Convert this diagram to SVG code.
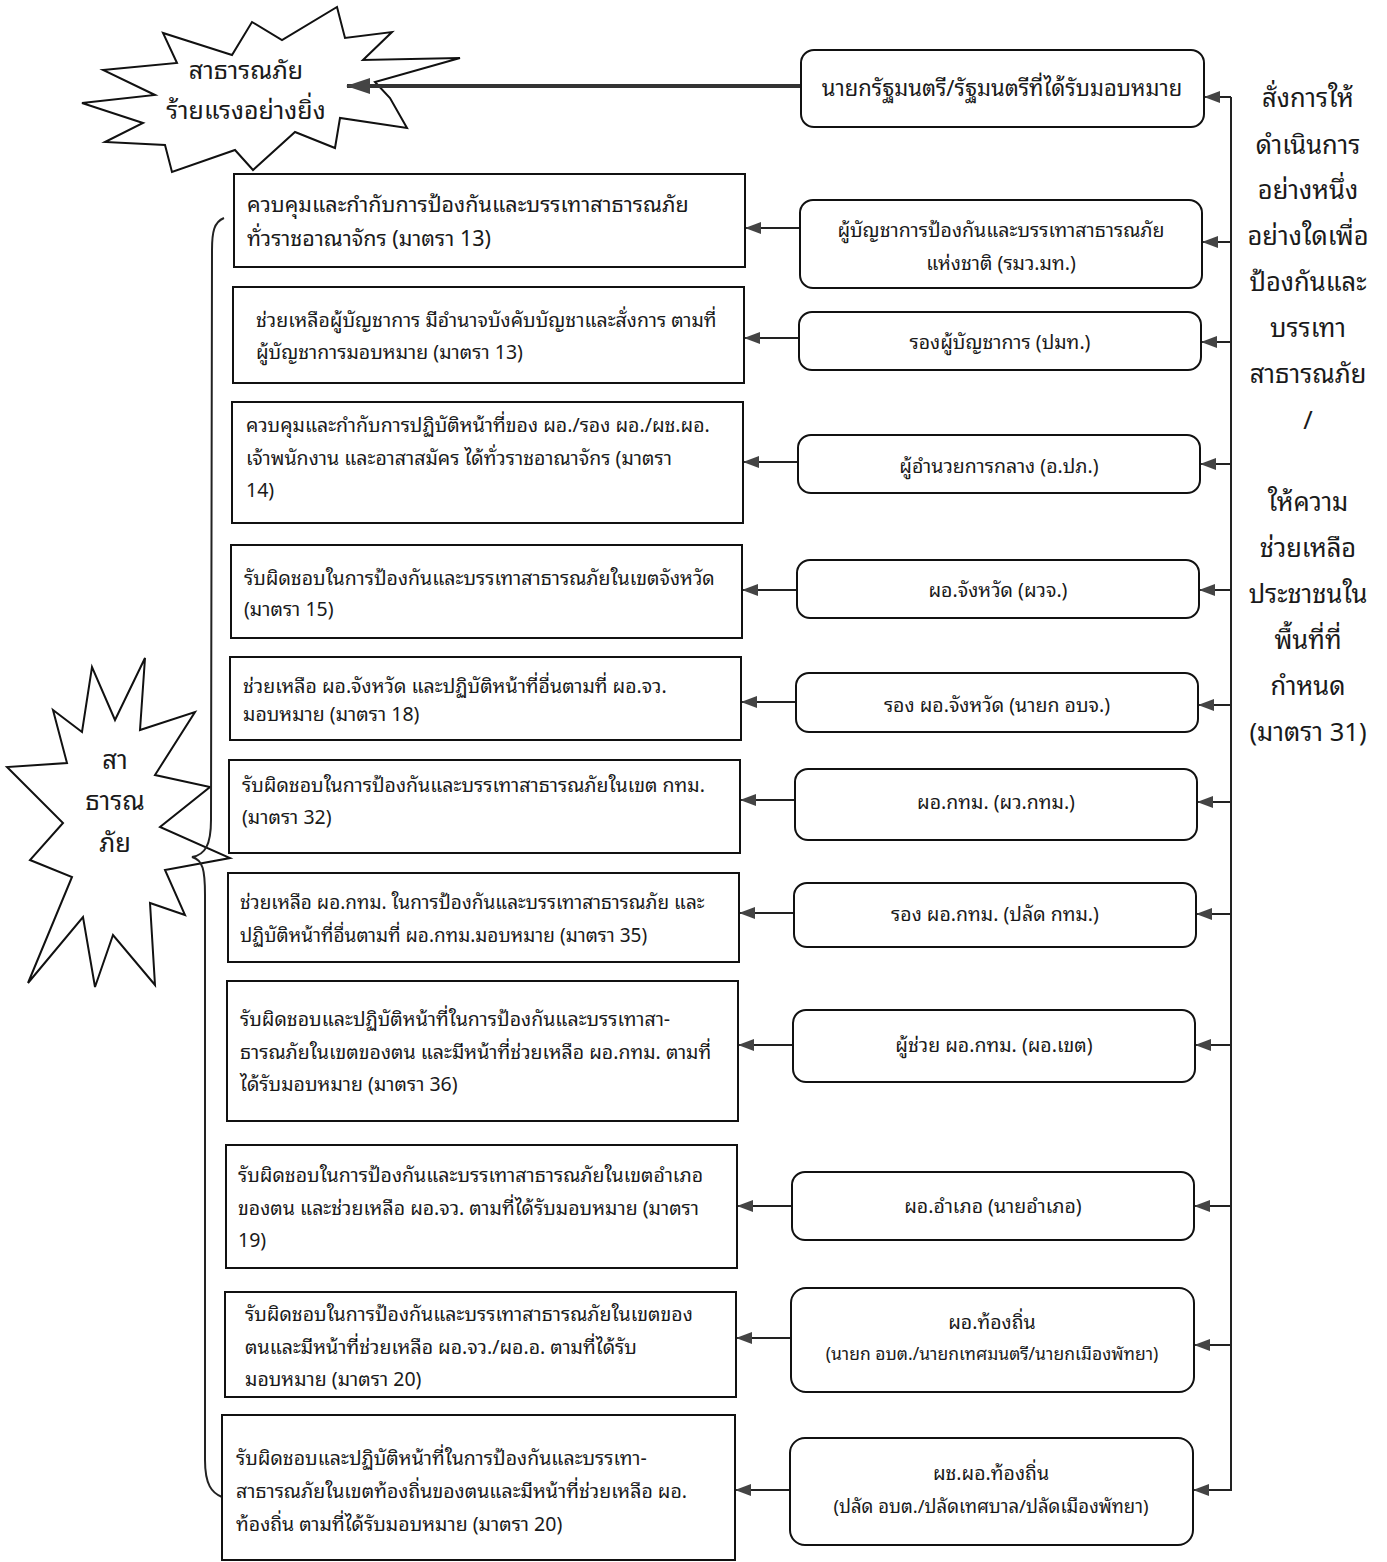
<svg xmlns="http://www.w3.org/2000/svg" width="1387" height="1562" viewBox="0 0 1387 1562">
<defs>
<style>
text{font-family:"Noto Sans Thai Looped","Noto Serif Thai","Noto Sans Thai","Noto Sans","Liberation Sans",sans-serif;fill:#1a1a1a;}
.l{font-size:19.5px;}
.l1{font-size:21.5px;}
.r{font-size:19.5px;text-anchor:middle;}
.c{font-size:25.5px;text-anchor:middle;}
.s{font-size:25.5px;text-anchor:middle;}
.rect{fill:#fff;stroke:#111;stroke-width:2;}
.rr{fill:#fff;stroke:#111;stroke-width:2;}
.star{fill:#fff;stroke:#111;stroke-width:2;stroke-linejoin:miter;}
.ln{stroke:#222;stroke-width:2;fill:none;}
</style>
<marker id="ah" markerWidth="16" markerHeight="12" refX="15" refY="6" orient="auto" markerUnits="userSpaceOnUse">
<path d="M0,0 L16,6 L0,12 Z" fill="#444"/>
</marker>
<marker id="ahb" markerWidth="24" markerHeight="16" refX="23" refY="8" orient="auto" markerUnits="userSpaceOnUse">
<path d="M0,0 L24,8 L0,16 Z" fill="#444"/>
</marker>
</defs>
<rect width="1387" height="1562" fill="#fff"/>

<g id="star-top">
<polygon class="star" points="103,70 177,63 163,33 232,55 252,22 282,40 337,7 345,38 392,32 363,60 460,58 375,82 390,98 407,128 340,118 335,148 295,132 253,170 235,150 172,172 165,145 105,142 143,123 82,103 155,95"/>
<text class="c" x="246" y="79" style="font-size:25px">สาธารณภัย</text>
<text class="c" x="246" y="119" style="font-size:25px">ร้ายแรงอย่างยิ่ง</text>
</g>

<g id="star-left">
<polygon class="star" points="7,767 63,823 30,860 72,877 28,983 83,917 95,987 113,935 155,985 150,903 185,915 165,870 230,858 160,827 210,787 155,775 195,712 140,730 145,658 115,720 92,667 82,732 53,710 67,763"/>
<text class="c" x="115" y="769">สา</text>
<text class="c" x="115" y="810">ธารณ</text>
<text class="c" x="115" y="852">ภัย</text>
</g>

<g id="connectors">
<path class="ln" d="M224,218 C214,222 212,232 212,250 L211,820 C211,845 205,855 192,857 C203,860 205,870 205,895 L205,1460 C205,1485 212,1493 222,1497"/>
<line x1="801" y1="86" x2="347" y2="86" stroke="#333" stroke-width="4" marker-end="url(#ahb)"/>
<line class="ln" x1="1231" y1="97" x2="1231" y2="1491"/>
<line class="ln" x1="1231" y1="97" x2="1205" y2="97" marker-end="url(#ah)"/>
<line class="ln" x1="1231" y1="242" x2="1203" y2="242" marker-end="url(#ah)"/>
<line class="ln" x1="1231" y1="342" x2="1202" y2="342" marker-end="url(#ah)"/>
<line class="ln" x1="1231" y1="464" x2="1201" y2="464" marker-end="url(#ah)"/>
<line class="ln" x1="1231" y1="590" x2="1200" y2="590" marker-end="url(#ah)"/>
<line class="ln" x1="1231" y1="705" x2="1199" y2="705" marker-end="url(#ah)"/>
<line class="ln" x1="1231" y1="802" x2="1198" y2="802" marker-end="url(#ah)"/>
<line class="ln" x1="1231" y1="914" x2="1197" y2="914" marker-end="url(#ah)"/>
<line class="ln" x1="1231" y1="1045" x2="1196" y2="1045" marker-end="url(#ah)"/>
<line class="ln" x1="1231" y1="1206" x2="1195" y2="1206" marker-end="url(#ah)"/>
<line class="ln" x1="1231" y1="1345" x2="1195" y2="1345" marker-end="url(#ah)"/>
<line class="ln" x1="1231" y1="1490" x2="1194" y2="1490" marker-end="url(#ah)"/>
<line class="ln" x1="800" y1="228" x2="746" y2="228" marker-end="url(#ah)"/>
<line class="ln" x1="799" y1="338" x2="745" y2="338" marker-end="url(#ah)"/>
<line class="ln" x1="798" y1="462" x2="744" y2="462" marker-end="url(#ah)"/>
<line class="ln" x1="797" y1="590" x2="743" y2="590" marker-end="url(#ah)"/>
<line class="ln" x1="796" y1="702" x2="742" y2="702" marker-end="url(#ah)"/>
<line class="ln" x1="795" y1="800" x2="741" y2="800" marker-end="url(#ah)"/>
<line class="ln" x1="794" y1="913" x2="740" y2="913" marker-end="url(#ah)"/>
<line class="ln" x1="793" y1="1045" x2="739" y2="1045" marker-end="url(#ah)"/>
<line class="ln" x1="792" y1="1206" x2="738" y2="1206" marker-end="url(#ah)"/>
<line class="ln" x1="791" y1="1338" x2="737" y2="1338" marker-end="url(#ah)"/>
<line class="ln" x1="790" y1="1490" x2="736" y2="1490" marker-end="url(#ah)"/>
</g>

<g id="r0"><rect class="rr" x="801" y="50" width="403" height="77" rx="13"/><text class="r" x="1002" y="96" style="font-size:22px">นายกรัฐมนตรี/รัฐมนตรีที่ได้รับมอบหมาย</text></g>
<g id="r1"><rect class="rr" x="800" y="200" width="402" height="88" rx="13"/><text class="r" x="1001" y="237">ผู้บัญชาการป้องกันและบรรเทาสาธารณภัย</text><text class="r" x="1001" y="270">แห่งชาติ (รมว.มท.)</text></g>
<g id="r2"><rect class="rr" x="799" y="312" width="402" height="58" rx="13"/><text class="r" x="1000" y="349">รองผู้บัญชาการ (ปมท.)</text></g>
<g id="r3"><rect class="rr" x="798" y="435" width="402" height="58" rx="13"/><text class="r" x="999" y="473">ผู้อำนวยการกลาง (อ.ปภ.)</text></g>
<g id="r4"><rect class="rr" x="797" y="560" width="402" height="58" rx="13"/><text class="r" x="998" y="597">ผอ.จังหวัด (ผวจ.)</text></g>
<g id="r5"><rect class="rr" x="796" y="673" width="402" height="59" rx="13"/><text class="r" x="997" y="712">รอง ผอ.จังหวัด (นายก อบจ.)</text></g>
<g id="r6"><rect class="rr" x="795" y="769" width="402" height="71" rx="13"/><text class="r" x="996" y="809">ผอ.กทม. (ผว.กทม.)</text></g>
<g id="r7"><rect class="rr" x="794" y="883" width="402" height="64" rx="13"/><text class="r" x="995" y="921">รอง ผอ.กทม. (ปลัด กทม.)</text></g>
<g id="r8"><rect class="rr" x="793" y="1010" width="402" height="72" rx="13"/><text class="r" x="994" y="1052">ผู้ช่วย ผอ.กทม. (ผอ.เขต)</text></g>
<g id="r9"><rect class="rr" x="792" y="1172" width="402" height="68" rx="13"/><text class="r" x="993" y="1213">ผอ.อำเภอ (นายอำเภอ)</text></g>
<g id="r10"><rect class="rr" x="791" y="1288" width="403" height="104" rx="15"/><text class="r" x="992" y="1329">ผอ.ท้องถิ่น</text><text class="r" x="992" y="1360" style="font-size:17.5px">(นายก อบต./นายกเทศมนตรี/นายกเมืองพัทยา)</text></g>
<g id="r11"><rect class="rr" x="790" y="1438" width="403" height="107" rx="15"/><text class="r" x="991" y="1480">ผช.ผอ.ท้องถิ่น</text><text class="r" x="991" y="1513" style="font-size:18.5px">(ปลัด อบต./ปลัดเทศบาล/ปลัดเมืองพัทยา)</text></g>

<g id="l1"><rect class="rect" x="234" y="174" width="511" height="93"/><text class="l1" x="247" y="212">ควบคุมและกำกับการป้องกันและบรรเทาสาธารณภัย</text><text class="l1" x="247" y="246">ทั่วราชอาณาจักร (มาตรา 13)</text></g>
<g id="l2"><rect class="rect" x="233" y="287" width="511" height="96"/><text class="l" x="256" y="327">ช่วยเหลือผู้บัญชาการ มีอำนาจบังคับบัญชาและสั่งการ ตามที่</text><text class="l" x="256" y="359">ผู้บัญชาการมอบหมาย (มาตรา 13)</text></g>
<g id="l3"><rect class="rect" x="232" y="402" width="511" height="121"/><text class="l" x="246" y="432">ควบคุมและกำกับการปฏิบัติหน้าที่ของ ผอ./รอง ผอ./ผช.ผอ.</text><text class="l" x="246" y="465">เจ้าพนักงาน และอาสาสมัคร ได้ทั่วราชอาณาจักร (มาตรา</text><text class="l" x="246" y="497">14)</text></g>
<g id="l4"><rect class="rect" x="231" y="545" width="511" height="93"/><text class="l" x="244" y="585">รับผิดชอบในการป้องกันและบรรเทาสาธารณภัยในเขตจังหวัด</text><text class="l" x="244" y="616">(มาตรา 15)</text></g>
<g id="l5"><rect class="rect" x="230" y="657" width="511" height="83"/><text class="l" x="243" y="693">ช่วยเหลือ ผอ.จังหวัด และปฏิบัติหน้าที่อื่นตามที่ ผอ.จว.</text><text class="l" x="243" y="721">มอบหมาย (มาตรา 18)</text></g>
<g id="l6"><rect class="rect" x="229" y="760" width="511" height="93"/><text class="l" x="242" y="792">รับผิดชอบในการป้องกันและบรรเทาสาธารณภัยในเขต กทม.</text><text class="l" x="242" y="824">(มาตรา 32)</text></g>
<g id="l7"><rect class="rect" x="228" y="873" width="511" height="89"/><text class="l" x="240" y="909" style="font-size:19px">ช่วยเหลือ ผอ.กทม. ในการป้องกันและบรรเทาสาธารณภัย และ</text><text class="l" x="240" y="942" style="font-size:19px">ปฏิบัติหน้าที่อื่นตามที่ ผอ.กทม.มอบหมาย (มาตรา 35)</text></g>
<g id="l8"><rect class="rect" x="227" y="981" width="511" height="140"/><text class="l" x="240" y="1026">รับผิดชอบและปฏิบัติหน้าที่ในการป้องกันและบรรเทาสา-</text><text class="l" x="240" y="1059">ธารณภัยในเขตของตน และมีหน้าที่ช่วยเหลือ ผอ.กทม. ตามที่</text><text class="l" x="240" y="1091">ได้รับมอบหมาย (มาตรา 36)</text></g>
<g id="l9"><rect class="rect" x="226" y="1145" width="511" height="123"/><text class="l" x="238" y="1182">รับผิดชอบในการป้องกันและบรรเทาสาธารณภัยในเขตอำเภอ</text><text class="l" x="238" y="1215">ของตน และช่วยเหลือ ผอ.จว. ตามที่ได้รับมอบหมาย (มาตรา</text><text class="l" x="238" y="1247">19)</text></g>
<g id="l10"><rect class="rect" x="225" y="1292" width="511" height="105"/><text class="l" x="245" y="1321">รับผิดชอบในการป้องกันและบรรเทาสาธารณภัยในเขตของ</text><text class="l" x="245" y="1354">ตนและมีหน้าที่ช่วยเหลือ ผอ.จว./ผอ.อ. ตามที่ได้รับ</text><text class="l" x="245" y="1386">มอบหมาย (มาตรา 20)</text></g>
<g id="l11"><rect class="rect" x="222" y="1415" width="513" height="145"/><text class="l" x="236" y="1465">รับผิดชอบและปฏิบัติหน้าที่ในการป้องกันและบรรเทา-</text><text class="l" x="236" y="1498">สาธารณภัยในเขตท้องถิ่นของตนและมีหน้าที่ช่วยเหลือ ผอ.</text><text class="l" x="236" y="1531">ท้องถิ่น ตามที่ได้รับมอบหมาย (มาตรา 20)</text></g>

<g id="side-note">
<text class="s" x="1308" y="107">สั่งการให้</text>
<text class="s" x="1308" y="154">ดำเนินการ</text>
<text class="s" x="1308" y="199">อย่างหนึ่ง</text>
<text class="s" x="1308" y="245">อย่างใดเพื่อ</text>
<text class="s" x="1308" y="291">ป้องกันและ</text>
<text class="s" x="1308" y="337">บรรเทา</text>
<text class="s" x="1308" y="383">สาธารณภัย</text>
<text class="s" x="1308" y="429">/</text>
<text class="s" x="1308" y="511">ให้ความ</text>
<text class="s" x="1308" y="557">ช่วยเหลือ</text>
<text class="s" x="1308" y="603">ประชาชนใน</text>
<text class="s" x="1308" y="649">พื้นที่ที่</text>
<text class="s" x="1308" y="695">กำหนด</text>
<text class="s" x="1308" y="741">(มาตรา 31)</text>
</g>
</svg>
